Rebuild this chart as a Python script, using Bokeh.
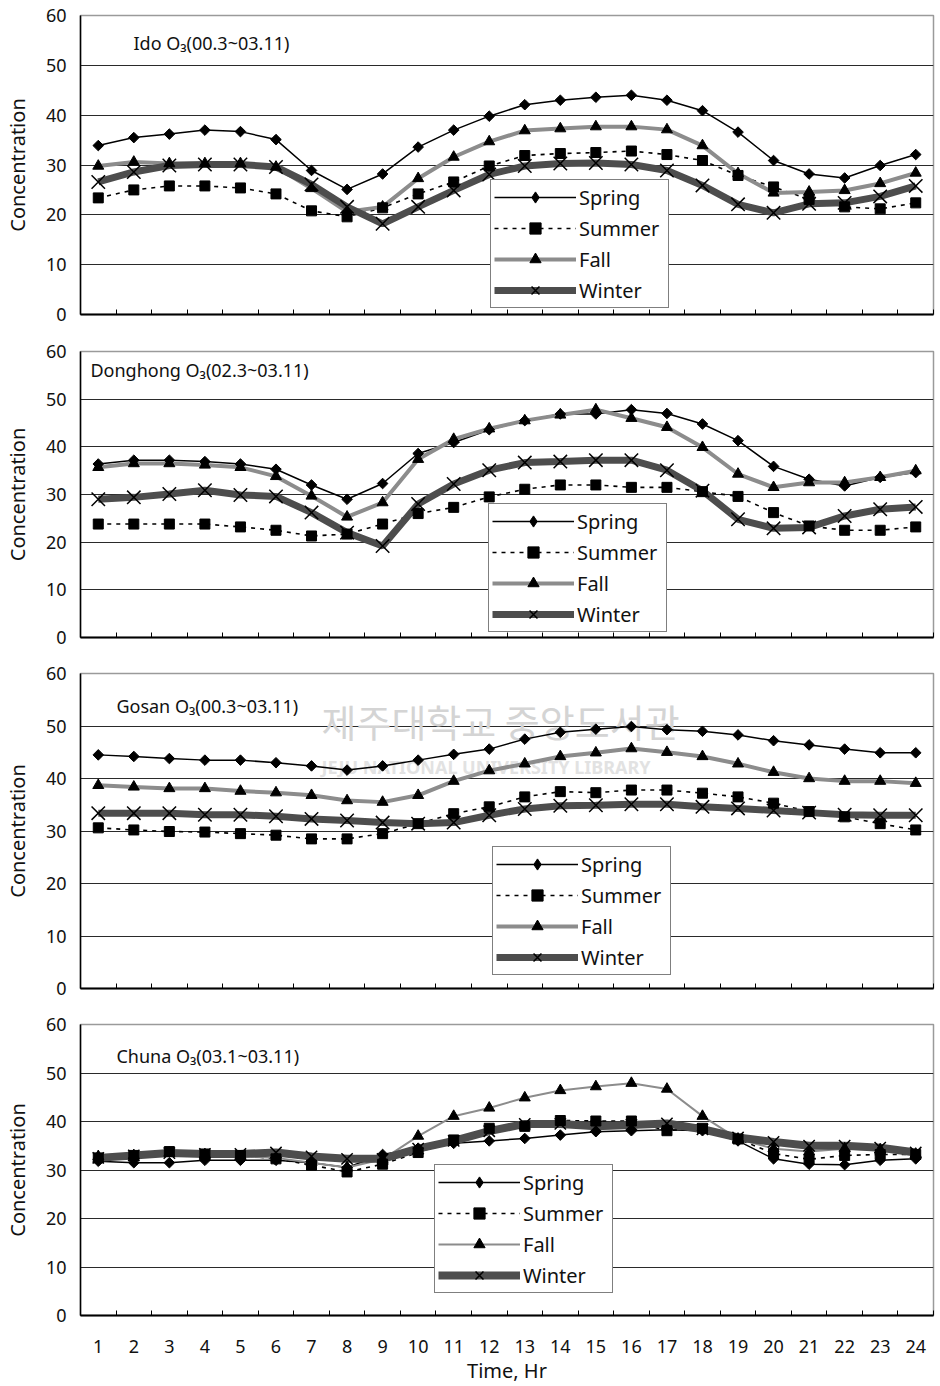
import numpy as np
from bokeh.plotting import figure
from bokeh.layouts import column
from bokeh.models import Range1d, FixedTicker, Legend, LegendItem, Label
from bokeh.embed import file_html
from bokeh.resources import INLINE

# Hour of day (x categories) and the boundaries between them (tick marks)
hours = list(range(1, 25))
hour_edges = [h - 0.5 for h in range(1, 26)]
y_ticks = [0, 10, 20, 30, 40, 50, 60]

# Ido O3 seasonal diurnal means
ido_spring = [33.9, 35.5, 36.2, 37.0, 36.7, 35.1, 28.9, 25.1, 28.2, 33.6, 37.0,
              39.8, 42.1, 43.0, 43.6, 44.0, 43.0, 40.9, 36.6, 30.9, 28.2, 27.4, 29.9, 32.1]
ido_summer = [23.4, 25.0, 25.8, 25.8, 25.4, 24.2, 20.8, 19.6, 21.4, 24.2, 26.6,
              29.8, 31.9, 32.3, 32.5, 32.8, 32.1, 30.9, 27.9, 25.6, 23.1, 21.6, 21.2, 22.4]
ido_fall = [29.8, 30.6, 30.3, 30.3, 30.3, 29.6, 25.3, 20.6, 21.6, 27.3, 31.6,
            34.7, 36.9, 37.3, 37.7, 37.7, 37.1, 33.9, 28.3, 24.4, 24.6, 24.9, 26.3, 28.4]
ido_winter = [26.6, 28.6, 29.9, 30.1, 30.1, 29.6, 26.1, 21.6, 18.2, 21.6, 24.9,
              28.1, 29.8, 30.3, 30.4, 30.1, 28.9, 25.9, 22.1, 20.4, 22.2, 22.4, 23.7, 25.8]

# Donghong O3
donghong_spring = [36.4, 37.2, 37.2, 36.9, 36.4, 35.3, 32.0, 29.0, 32.3, 38.6, 40.9,
                   43.6, 45.5, 46.9, 46.9, 47.8, 47.0, 44.8, 41.3, 35.9, 33.2, 31.8, 33.6, 34.6]
donghong_summer = [23.8, 23.8, 23.8, 23.8, 23.2, 22.5, 21.3, 21.7, 23.8, 26.0, 27.3,
                   29.5, 31.1, 32.0, 32.0, 31.5, 31.5, 30.6, 29.6, 26.2, 23.4, 22.5, 22.5, 23.2]
donghong_fall = [35.7, 36.5, 36.5, 36.2, 35.7, 33.8, 29.7, 25.3, 28.3, 37.4, 41.6,
                 43.8, 45.5, 46.7, 47.8, 46.0, 44.1, 39.9, 34.3, 31.5, 32.5, 32.5, 33.6, 35.0]
donghong_winter = [29.0, 29.4, 30.1, 30.9, 29.9, 29.6, 26.2, 22.0, 19.2, 28.0, 32.2,
                   35.1, 36.7, 36.9, 37.2, 37.2, 35.1, 30.8, 24.8, 22.9, 23.1, 25.5, 26.9, 27.4]

# Gosan O3
gosan_spring = [44.5, 44.2, 43.8, 43.5, 43.5, 43.0, 42.4, 41.6, 42.4, 43.5, 44.6,
                45.6, 47.5, 48.8, 49.4, 49.9, 49.3, 49.0, 48.3, 47.2, 46.4, 45.6, 44.9, 44.9]
gosan_summer = [30.6, 30.2, 29.9, 29.8, 29.5, 29.2, 28.5, 28.5, 29.5, 31.4, 33.3,
                34.6, 36.5, 37.5, 37.3, 37.8, 37.8, 37.2, 36.5, 35.3, 33.7, 32.7, 31.4, 30.2]
gosan_fall = [38.7, 38.4, 38.1, 38.1, 37.6, 37.3, 36.8, 35.8, 35.5, 36.8, 39.5,
              41.5, 42.8, 44.2, 44.9, 45.7, 45.0, 44.2, 42.8, 41.2, 40.0, 39.5, 39.5, 39.1]
gosan_winter = [33.4, 33.4, 33.4, 33.1, 33.1, 32.8, 32.3, 32.0, 31.6, 31.4, 31.6,
                33.0, 34.2, 34.8, 34.9, 35.1, 35.1, 34.6, 34.3, 33.9, 33.5, 33.1, 33.0, 33.0]

# Chuna O3
chuna_spring = [31.8, 31.5, 31.5, 32.0, 32.0, 32.0, 31.5, 30.5, 33.2, 34.5, 35.5,
                36.0, 36.5, 37.2, 37.9, 38.1, 38.3, 38.1, 36.0, 32.3, 31.2, 31.1, 32.0, 32.3]
chuna_summer = [32.5, 33.0, 33.8, 33.3, 33.0, 32.3, 31.0, 29.6, 31.2, 33.6, 36.2,
                38.6, 39.0, 40.2, 40.1, 40.1, 38.1, 38.6, 36.4, 33.4, 32.2, 33.0, 33.2, 33.2]
chuna_fall = [32.8, 33.0, 33.5, 33.2, 32.8, 32.5, 31.5, 30.5, 32.2, 37.0, 41.1,
              42.8, 44.9, 46.4, 47.2, 47.9, 46.7, 41.1, 36.4, 34.4, 33.8, 34.4, 34.2, 33.3]
chuna_winter = [32.5, 33.0, 33.5, 33.3, 33.3, 33.6, 32.8, 32.3, 32.3, 34.4, 36.0,
                38.0, 39.5, 39.5, 39.0, 39.3, 39.6, 38.4, 36.7, 35.8, 35.0, 35.0, 34.6, 33.6]

FONT = "Noto Sans"
FRAME_W = 853


def make_panel(title, series, title_xy, top, frame_h, bottom, legend_xy,
               fall_width=4, winter_width=7, x_size=19, last=False):
    p = figure(frame_width=FRAME_W, frame_height=frame_h,
               min_border_left=79, min_border_right=8,
               min_border_top=top, min_border_bottom=bottom,
               x_range=Range1d(0.5, 24.5), y_range=Range1d(0, 60),
               output_backend="svg", toolbar_location=None,
               background_fill_color="white", border_fill_color="white")
    p.outline_line_color = "#9a9a9a"
    p.outline_line_width = 1.5

    # grid
    p.xgrid.visible = False
    p.ygrid.ticker = FixedTicker(ticks=[10, 20, 30, 40, 50])
    p.ygrid.grid_line_color = "#2a2a2a"
    p.ygrid.grid_line_width = 1

    # y axis
    ya = p.yaxis[0]
    ya.ticker = FixedTicker(ticks=y_ticks)
    ya.major_tick_in = 0
    ya.major_tick_out = 0
    ya.minor_tick_line_color = None
    ya.axis_line_color = "black"
    ya.axis_line_width = 1.5
    ya.major_label_text_font = FONT
    ya.major_label_text_font_size = "18px"
    ya.major_label_text_color = "#111111"
    ya.major_label_standoff = 14
    ya.axis_label = "Concentration"
    ya.axis_label_text_font = FONT
    ya.axis_label_text_font_size = "20px"
    ya.axis_label_text_font_style = "normal"
    ya.axis_label_text_color = "#111111"
    ya.axis_label_standoff = 12

    # x axis: hour labels (bottom panel only), tick marks on the hour boundaries
    xa = p.xaxis[0]
    xa.ticker = FixedTicker(ticks=hours if last else [], minor_ticks=hour_edges)
    xa.major_tick_line_color = None
    xa.minor_tick_in = 5
    xa.minor_tick_out = 0
    xa.minor_tick_line_color = "black"
    xa.minor_tick_line_width = 1
    xa.axis_line_color = "black"
    xa.axis_line_width = 2
    xa.major_label_text_font = FONT
    xa.major_label_text_font_size = "18px"
    xa.major_label_text_color = "#111111"
    xa.major_label_standoff = 18
    if last:
        xa.axis_label = "Time, Hr"
        xa.axis_label_text_font = FONT
        xa.axis_label_text_font_size = "20px"
        xa.axis_label_text_font_style = "normal"
        xa.axis_label_text_color = "#111111"
        xa.axis_label_standoff = 1

    spring, summer, fall, winter = series

    l_sp = p.line(hours, spring, line_color="black", line_width=1.5)
    l_su = p.line(hours, summer, line_color="black", line_width=1.6, line_dash="4 5")
    l_fa = p.line(hours, fall, line_color="#8c8c8c", line_width=fall_width)
    l_wi = p.line(hours, winter, line_color="#4d4d4d", line_width=winter_width)

    m_sp = p.scatter(hours, spring, marker="square", angle=np.pi / 4, size=7.5,
                     fill_color="black", line_color="black")
    m_su = p.scatter(hours, summer, marker="square", size=10,
                     fill_color="black", line_color="black")
    m_fa = p.scatter(hours, fall, marker="triangle", size=11,
                     fill_color="black", line_color="black")
    m_wi = p.scatter(hours, winter, marker="x", size=x_size,
                     line_color="black", line_width=1.5)
    # legend swatch for the spring diamond (not drawn in the plot area)
    k_sp = p.scatter(hours, spring, marker="diamond", size=12,
                     fill_color="black", line_color="black", visible=False)

    legend = Legend(items=[
        LegendItem(label="Spring", renderers=[l_sp, k_sp]),
        LegendItem(label="Summer", renderers=[l_su, m_su]),
        LegendItem(label="Fall", renderers=[l_fa, m_fa]),
        LegendItem(label="Winter", renderers=[l_wi, m_wi]),
    ], location=legend_xy)
    legend.border_line_color = "black"
    legend.border_line_width = 1
    legend.background_fill_color = "white"
    legend.background_fill_alpha = 1
    legend.label_text_font = FONT
    legend.label_text_font_size = "20px"
    legend.label_text_color = "#111111"
    legend.glyph_width = 82
    legend.glyph_height = 28
    legend.label_height = 28
    legend.label_width = 86
    legend.label_standoff = 3
    legend.padding = 3
    legend.spacing = 3
    legend.margin = 0
    p.add_layout(legend, "center")

    p.add_layout(Label(x=title_xy[0], y=title_xy[1], text=title,
                       text_font=FONT, text_font_size="18px",
                       text_color="#111111", text_baseline="middle"))
    return p


p1 = make_panel("Ido O\u2083(00.3~03.11)", (ido_spring, ido_summer, ido_fall, ido_winter),
                (1.99, 54.4), 15, 299, 16, (410, 6))
p2 = make_panel("Donghong O\u2083(02.3~03.11)",
                (donghong_spring, donghong_summer, donghong_fall, donghong_winter),
                (0.78, 56.2), 21, 286, 18, (408, 5))
p3 = make_panel("Gosan O\u2083(00.3~03.11)",
                (gosan_spring, gosan_summer, gosan_fall, gosan_winter),
                (1.51, 53.9), 18, 315, 17, (412, 13))
p4 = make_panel("Chuna O\u2083(03.1~03.11)",
                (chuna_spring, chuna_summer, chuna_fall, chuna_winter),
                (1.51, 53.6), 19, 291, 71, (354, 22),
                fall_width=2, winter_width=8, x_size=16, last=True)

# library stamp printed faintly across the Gosan panel
p3.add_layout(Label(x=7.28, y=51.0, text="제주대학교 중앙도서관",
                    text_font="Noto Sans CJK KR", text_font_size="38px",
                    text_color="#d4d4d4", text_baseline="middle", level="underlay"))
p3.add_layout(Label(x=7.28, y=42.1, text="JEJU NATIONAL UNIVERSITY LIBRARY",
                    text_font=FONT, text_font_size="18px", text_font_style="bold",
                    text_color="#e2e2e2", text_baseline="middle", level="underlay"))

layout = column(p1, p2, p3, p4, spacing=0)

with open("out.html", "w") as f:
    f.write(file_html(layout, INLINE))
